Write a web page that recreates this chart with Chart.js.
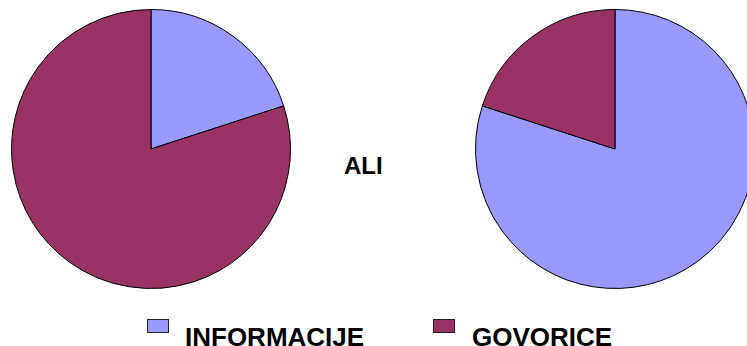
<!DOCTYPE html>
<html>
<head>
<meta charset="utf-8">
<script src="https://cdn.jsdelivr.net/npm/chart.js@4.4.0/dist/chart.umd.min.js"></script>
<style>
  html, body { margin: 0; padding: 0; background: #fff; }
  body { width: 747px; height: 346px; overflow: hidden; position: relative;
         font-family: "Liberation Sans", Arial, sans-serif; font-weight: bold; }
  .pie { position: absolute; top: 9px; width: 280px; height: 280px; }
  #leftBox { left: 11px; }
  #rightBox { left: 475px; }
  #ali { position: absolute; left: 344px; top: 154px; font-size: 24px; line-height: 24px; }
  .swatch { position: absolute; top: 319px; width: 20px; height: 12px; border: 1px solid #222; }
  .lbl { position: absolute; top: 324px; font-size: 26px; line-height: 26px; white-space: nowrap; }
</style>
</head>
<body>
<div id="leftBox" class="pie"><canvas id="leftPie"></canvas></div>
<div id="rightBox" class="pie"><canvas id="rightPie"></canvas></div>
<div id="ali">ALI</div>
<div id="legend"></div>

<script>
const labels = ["INFORMACIJE", "GOVORICE"];
const leftValues = [20, 80];
const rightValues = [80, 20];
const colors = ["#9999FF", "#993366"];

// legend placement (x of swatch, x of text)
const legendPos = [[147, 185], [433, 472]];

const legend = document.getElementById("legend");
labels.forEach((name, i) => {
  const sw = document.createElement("div");
  sw.className = "swatch";
  sw.style.left = legendPos[i][0] + "px";
  sw.style.background = colors[i];
  legend.appendChild(sw);

  const tx = document.createElement("div");
  tx.className = "lbl";
  tx.style.left = legendPos[i][1] + "px";
  tx.textContent = name;
  legend.appendChild(tx);
});

function makePie(id, values) {
  return new Chart(document.getElementById(id), {
    type: "pie",
    data: {
      labels,
      datasets: [{
        data: values,
        backgroundColor: colors,
        borderColor: "#000",
        borderWidth: 1,
      }],
    },
    options: {
      responsive: true,
      maintainAspectRatio: false,
      animation: false,
      layout: { padding: 0 },
      plugins: {
        legend: { display: false },
        tooltip: { enabled: false },
      },
    },
  });
}

makePie("leftPie", leftValues);
makePie("rightPie", rightValues);
</script>
</body>
</html>
